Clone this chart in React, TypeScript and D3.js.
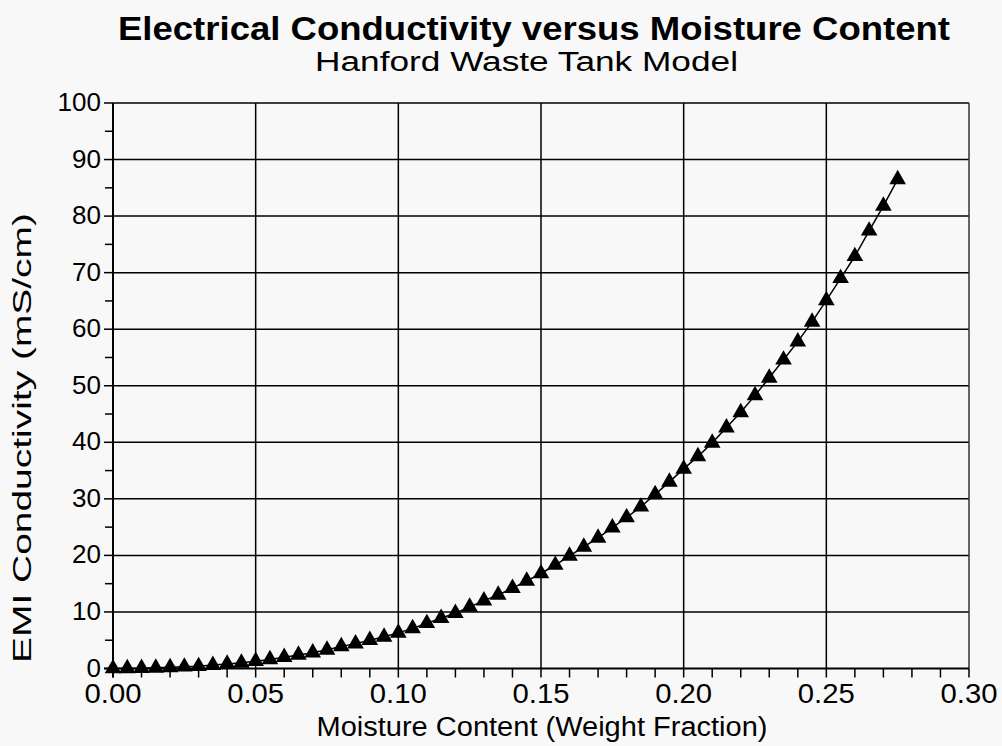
import React from "react";
import * as d3 from "d3";

const moisture = [
  0, 0.005, 0.01, 0.015, 0.02, 0.025, 0.03, 0.035, 0.04, 0.045,
  0.05, 0.055, 0.06, 0.065, 0.07, 0.075, 0.08, 0.085, 0.09, 0.095,
  0.1, 0.105, 0.11, 0.115, 0.12, 0.125, 0.13, 0.135, 0.14, 0.145,
  0.15, 0.155, 0.16, 0.165, 0.17, 0.175, 0.18, 0.185, 0.19, 0.195,
  0.2, 0.205, 0.21, 0.215, 0.22, 0.225, 0.23, 0.235, 0.24, 0.245,
  0.25, 0.255, 0.26, 0.265, 0.27, 0.275,
];
const conductivity = [
  0, 0.02, 0.06, 0.12, 0.2, 0.3, 0.4, 0.6, 0.8, 1.0,
  1.3, 1.6, 2.0, 2.4, 2.8, 3.3, 3.9, 4.4, 5.0, 5.6,
  6.3, 7.1, 8.0, 8.9, 9.8, 10.9, 12.0, 13.0, 14.2, 15.5,
  16.8, 18.3, 19.9, 21.5, 23.1, 24.9, 26.7, 28.6, 30.8, 33.0,
  35.3, 37.5, 39.9, 42.6, 45.3, 48.3, 51.4, 54.6, 57.8, 61.3,
  65.1, 69.0, 72.9, 77.4, 81.8, 86.5,
];
const xTicks = [0, 0.05, 0.1, 0.15, 0.2, 0.25, 0.3];
const xMinorTicks = d3.range(0, 31).map((i) => i / 100);
const yTicks = [0, 10, 20, 30, 40, 50, 60, 70, 80, 90, 100];
const yMinorTicks = [5, 15, 25, 35, 45, 55, 65, 75, 85, 95];

const title = "Electrical Conductivity versus Moisture Content";
const subtitle = "Hanford Waste Tank Model";
const xTitle = "Moisture Content (Weight Fraction)";
const yTitle = "EMI Conductivity (mS/cm)";

export default function App() {
  const W = 1002, H = 746;
  const left = 113, right = 969, top = 103, bottom = 668.5;
  const x = d3.scaleLinear().domain([0, 0.3]).range([left, right]);
  const y = d3.scaleLinear().domain([0, 100]).range([bottom, top]);
  const pts = moisture.map((m, i) => [m, conductivity[i]] as [number, number]);
  const line = d3.line<[number, number]>().x((d) => x(d[0])).y((d) => y(d[1]));
  const tri = d3.symbol().type(d3.symbolTriangle).size(120)() as string;
  const font = "'Liberation Sans', Arial, Helvetica, sans-serif";
  const fmt = d3.format(".2f");
  return (
    <svg width={W} height={H} style={{ position: "absolute", left: 0, top: 0, background: "#f8f8f8" }} fontFamily={font}>
      <rect x={0} y={0} width={W} height={H} fill="#f8f8f8" />
      <text x={534} y={40} textAnchor="middle" fontSize={33} fontWeight="bold" fill="#000" textLength={832} lengthAdjust="spacingAndGlyphs">{title}</text>
      <text x={526.5} y={71} textAnchor="middle" fontSize={27} fill="#000" textLength={423} lengthAdjust="spacingAndGlyphs">{subtitle}</text>
      {/* grid */}
      {xTicks.slice(1, -1).map((t) => (
        <line key={"gx" + t} x1={x(t)} x2={x(t)} y1={top} y2={bottom} stroke="#000" strokeWidth={1.5} />
      ))}
      {yTicks.slice(1, -1).map((t) => (
        <line key={"gy" + t} x1={left} x2={right} y1={y(t)} y2={y(t)} stroke="#000" strokeWidth={1.5} />
      ))}
      {/* frame */}
      <line x1={left} x2={right} y1={top} y2={top} stroke="#000" strokeWidth={1.5} />
      <line x1={right} x2={right} y1={top} y2={bottom} stroke="#333" strokeWidth={1.5} />
      <line x1={left} x2={left} y1={top} y2={bottom + 9} stroke="#000" strokeWidth={2} />
      <line x1={left - 9} x2={right} y1={bottom} y2={bottom} stroke="#000" strokeWidth={2} />
      {/* y ticks */}
      {yTicks.map((t) => (
        <g key={"yt" + t}>
          <line x1={left - 9} x2={left} y1={y(t)} y2={y(t)} stroke="#000" strokeWidth={1.5} />
          <text x={left - 12} y={y(t) + 8} textAnchor="end" fontSize={26} fill="#000">{t}</text>
        </g>
      ))}
      {yMinorTicks.map((t) => (
        <line key={"ym" + t} x1={left - 8} x2={left} y1={y(t)} y2={y(t)} stroke="#000" strokeWidth={1.5} />
      ))}
      {/* x ticks */}
      {xMinorTicks.map((t) => (
        <line key={"xm" + t} x1={x(t)} x2={x(t)} y1={bottom} y2={bottom + 9} stroke="#000" strokeWidth={1.5} />
      ))}
      {xTicks.map((t) => (
        <text key={"xt" + t} x={x(t)} y={703} textAnchor="middle" fontSize={27} fill="#000" textLength={57} lengthAdjust="spacingAndGlyphs">{fmt(t)}</text>
      ))}
      <text x={542} y={736} textAnchor="middle" fontSize={27} fill="#000" textLength={451} lengthAdjust="spacingAndGlyphs">{xTitle}</text>
      <text transform={`translate(31, 438) rotate(-90)`} textAnchor="middle" fontSize={26} fill="#000" textLength={450} lengthAdjust="spacingAndGlyphs">{yTitle}</text>
      {/* series */}
      <path d={line(pts) as string} fill="none" stroke="#000" strokeWidth={1.5} />
      {pts.map((p, i) => (
        <path key={"p" + i} d={tri} transform={`translate(${x(p[0])},${y(p[1])})`} fill="#000" />
      ))}
    </svg>
  );
}
